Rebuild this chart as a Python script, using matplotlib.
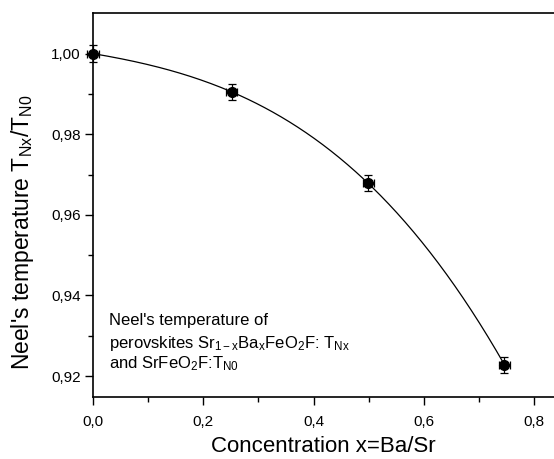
import numpy as np
import matplotlib
matplotlib.use("Agg")
import matplotlib.pyplot as plt

plt.rcParams['font.family'] = ['Liberation Sans', 'DejaVu Sans']
plt.rcParams['mathtext.fontset'] = 'custom'
plt.rcParams['mathtext.rm'] = 'Liberation Sans'
plt.rcParams['mathtext.it'] = 'Liberation Sans'
plt.rcParams['mathtext.default'] = 'regular'

# data
conc = [0.0, 0.2515, 0.499, 0.746]
ratio = [1.000, 0.9905, 0.9678, 0.9228]
ratio_err = [0.0022, 0.002, 0.002, 0.002]
conc_err = [0.01, 0.01, 0.01, 0.01]
xticks = [0.0, 0.2, 0.4, 0.6, 0.8]
xticklabels = ['0,0', '0,2', '0,4', '0,6', '0,8']
yticks = [0.92, 0.94, 0.96, 0.98, 1.00]
yticklabels = ['0,92', '0,94', '0,96', '0,98', '1,00']

fig = plt.figure(figsize=(5.54, 4.59), dpi=100)
ax = fig.add_axes([93/554, 1 - 397/459, 1 - 93/554, (397 - 13.3)/459])

# smooth curve through the points (cubic fit)
coef = np.polyfit(conc, ratio, 3)
xs = np.linspace(conc[0], conc[-1], 200)
ax.plot(xs, np.polyval(coef, xs), color='black', lw=0.9, zorder=2)

ax.errorbar(conc, ratio, yerr=ratio_err, xerr=conc_err, fmt='o', color='black',
            ms=7, elinewidth=0.9, capsize=3, capthick=0.9, zorder=3, clip_on=False)

ax.set_xlim(0, 0.8358)
ax.set_ylim(0.9148, 1.01)
ax.set_xticks(xticks)
ax.set_xticklabels(xticklabels)
ax.set_yticks(yticks)
ax.set_yticklabels(yticklabels)
ax.set_xticks([0.1, 0.3, 0.5, 0.7], minor=True)
ax.set_yticks([0.93, 0.95, 0.97, 0.99], minor=True)
ax.tick_params(which='major', direction='out', length=6, width=1, labelsize=11)
ax.tick_params(axis='x', which='major', pad=7)
ax.tick_params(axis='y', which='major', pad=3)
ax.tick_params(which='minor', direction='out', length=3.5, width=1)
ax.tick_params(top=False, right=False)
ax.spines['right'].set_visible(False)
for s in ['left', 'bottom', 'top']:
    ax.spines[s].set_linewidth(1.2)

ax.set_xlabel('Concentration x=Ba/Sr', fontsize=16, labelpad=5)
ax.set_ylabel('Neel\'s temperature T$_{Nx}$/T$_{N0}$', fontsize=16.5)
ax.yaxis.set_label_coords(-0.123, 0.43)

lines = ["Neel's temperature of",
         "perovskites Sr$_{1-x}$Ba$_{x}$FeO$_{2}$F: T$_{Nx}$",
         "and SrFeO$_{2}$F:T$_{N0}$"]
for txt, yb in zip(lines, [0.1877, 0.1277, 0.0756]):
    ax.text(0.0347, yb, txt, transform=ax.transAxes, fontsize=12,
            va='baseline', ha='left')

fig.savefig('out.png', dpi=100)
